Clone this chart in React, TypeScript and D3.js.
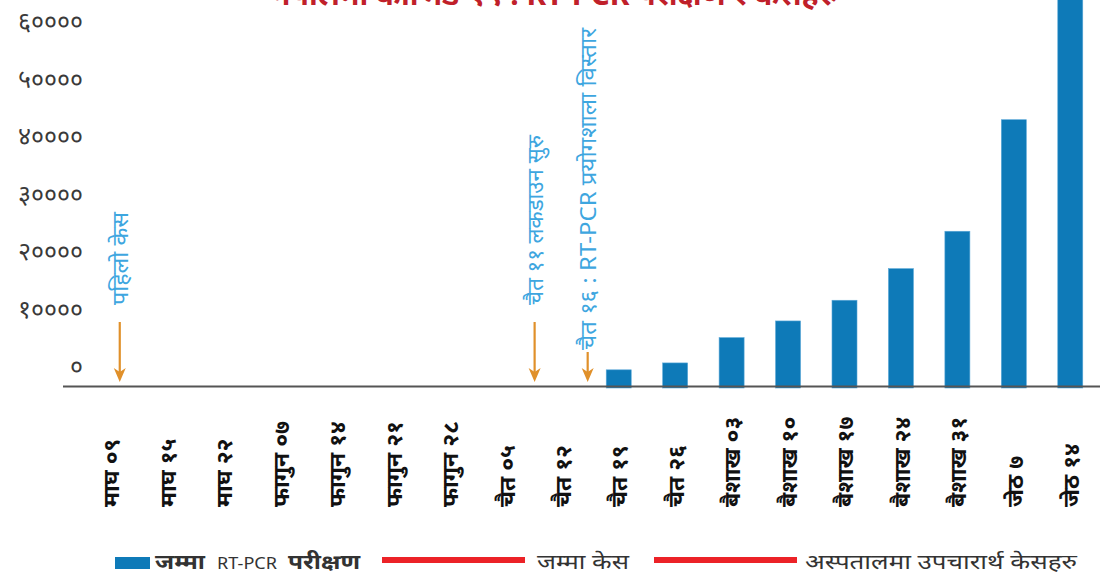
import * as d3 from "d3";

const W = 1100;
const H = 576;

// x categories (Nepali dates)
const categories = [
  "माघ ०९", "माघ १५", "माघ २२", "फागुन ०७", "फागुन १४", "फागुन २१", "फागुन २८",
  "चैत ०५", "चैत १२", "चैत १९", "चैत २६", "बैशाख ०३", "बैशाख १०", "बैशाख १७",
  "बैशाख २४", "बैशाख ३१", "जेठ ७", "जेठ १४",
];

// cumulative RT-PCR tests (null = no data yet)
const pcrTests: (number | null)[] = [
  null, null, null, null, null, null, null, null, null,
  2900, 4100, 8500, 11400, 15000, 20500, 27000, 46400, 68500,
];

const yTicks = [0, 10000, 20000, 30000, 40000, 50000, 60000];

// event notes: position given as fractional category index
const notes = [
  { at: 0.16, text: "पहिलो केस", arrowTop: 322, textBottom: 305, len: 93 },
  { at: 7.51, text: "चैत ११ लकडाउन सुरु", arrowTop: 322, textBottom: 305, len: 170 },
  { at: 8.45, text: "चैत १६ : RT-PCR प्रयोगशाला विस्तार", arrowTop: 352, textBottom: 350, len: 322 },
];

const legendNames = ["जम्मा", "RT-PCR", "परीक्षण", "जम्मा केस", "अस्पतालमा उपचारार्थ केसहरु"];

const BAR = "#0e7ab8";
const RED = "#ec2227";
const NOTE = "#3ea6df";
const ARROW = "#e0902a";
const FONT = "'Noto Sans', 'Open Sans', sans-serif";

const toDev = (s: string) => s.replace(/\d/g, (d) => "०१२३४५६७८९"[+d]);

export default function App() {
  const x = d3
    .scaleBand<string>()
    .domain(categories)
    .range([70, 1111])
    .paddingInner(0.557)
    .paddingOuter(0.5);
  const y = d3.scaleLinear().domain([0, 60000]).range([386.5, 41.5]);

  const bw = x.bandwidth();
  const cx = (i: number) => (x(categories[0]) ?? 0) + bw / 2 + i * x.step();

  return (
    <div style={{ position: "absolute", left: 0, top: 0 }}>
      <svg width={W} height={H} style={{ display: "block", background: "#fff" }} fontFamily={FONT}>
        {/* title, mostly cut off by the frame */}
        <text x={555} y={5} textAnchor="middle" fill="#c0202a" fontSize={30} fontWeight="bold">
          नेपालमा कोभिड-१९ : RT-PCR परीक्षण र केसहरु
        </text>

        {/* y tick labels */}
        {yTicks.map((t) => (
          <text
            key={t}
            x={83}
            y={y(t) - 20}
            dy="0.35em"
            textAnchor="end"
            fill="#3a3a3a"
            fontSize={25}
          >
            {toDev(String(t))}
          </text>
        ))}

        {/* bars */}
        {pcrTests.map((v, i) =>
          v == null ? null : (
            <rect
              key={i}
              x={x(categories[i])}
              y={y(v)}
              width={bw}
              height={y(0) - y(v) + 1.5}
              fill={BAR}
              stroke="#5aa8d8"
              strokeWidth={0.6}
            />
          )
        )}

        {/* x axis line */}
        <line x1={63} x2={W} y1={y(0)} y2={y(0)} stroke="#555" strokeWidth={2} />

        {/* x labels */}
        {categories.map((c, i) => (
          <text
            key={c}
            transform={`translate(${cx(i)},507) rotate(-90)`}
            dy="0.38em"
            fill="#111"
            fontSize={23}
            fontWeight="bold"
          >
            {c}
          </text>
        ))}

        {/* event notes with arrows */}
        {notes.map((n) => {
          const px = cx(n.at);
          return (
            <g key={n.text}>
              <line x1={px} x2={px} y1={n.arrowTop} y2={376} stroke={ARROW} strokeWidth={2.2} />
              <path d={`M${px - 6},368 L${px},382 L${px + 6},368 L${px},372 Z`} fill={ARROW} />
              <text
                transform={`translate(${px},${n.textBottom}) rotate(-90)`}
                dy="0.38em"
                fill={NOTE}
                fontSize={22}
                textLength={n.len}
                lengthAdjust="spacingAndGlyphs"
              >
                {n.text}
              </text>
            </g>
          );
        })}

        {/* legend */}
        <g fill="#333" fontSize={20}>
          <rect x={115} y={557} width={35} height={12} fill={BAR} />
          <text x={155} y={569} fontWeight="bold" textLength={50} lengthAdjust="spacingAndGlyphs">{legendNames[0]}</text>
          <text x={217} y={569} fontSize={16} textLength={60} lengthAdjust="spacingAndGlyphs">{legendNames[1]}</text>
          <text x={288} y={569} fontWeight="bold" textLength={72} lengthAdjust="spacingAndGlyphs">{legendNames[2]}</text>
          <rect x={382} y={557} width={143} height={6} fill={RED} />
          <text x={537} y={569} textLength={92} lengthAdjust="spacingAndGlyphs">{legendNames[3]}</text>
          <rect x={654} y={557} width={143} height={6} fill={RED} />
          <text x={805} y={569} textLength={272} lengthAdjust="spacingAndGlyphs">{legendNames[4]}</text>
        </g>
      </svg>
    </div>
  );
}
